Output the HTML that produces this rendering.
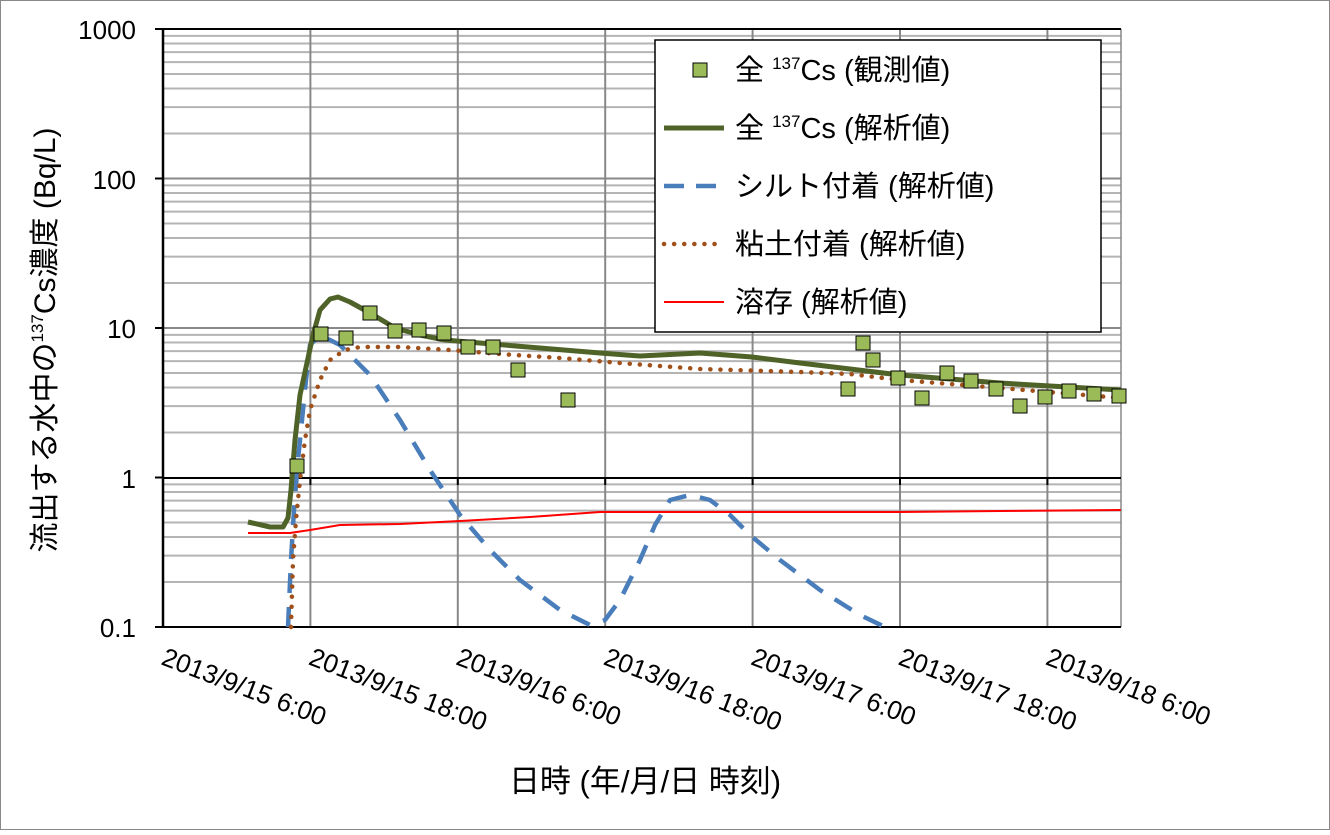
<!DOCTYPE html>
<html><head><meta charset="utf-8"><style>
body{margin:0;background:#fff}
svg{font-family:"Liberation Sans","Noto Sans CJK JP",sans-serif}
</style></head><body>
<svg width="1330" height="830" xmlns="http://www.w3.org/2000/svg">
<rect x="0.5" y="0.5" width="1329" height="829" fill="#fff" stroke="#888"/>
<g id="grid"></g>
<g fill="none" stroke-linejoin="round">
<polyline stroke="#4a7ebb" stroke-width="4.5" stroke-dasharray="20,14" points="288,627 291,560 294,510 298,460 302,420 306,380 310,345 315,340 320,335 340,345 370,375 400,420 430,470 460,515 490,550 520,580 560,610 590,625 605,620 620,600 640,560 655,525 670,500 690,495 710,500 730,515 750,535 780,560 820,590 860,615 885,627"/>
<polyline stroke="#a0501a" stroke-width="4.5" stroke-dasharray="0.1,10" stroke-linecap="round" points="291,627 293,560 296,520 300,480 305,440 310,410 320,380 330,360 345,350 360,347 400,347 450,350 500,354 560,358 620,363 700,369 800,372 850,374 900,380 1000,388 1121,398"/>
<polyline stroke="#ff0000" stroke-width="2" points="248,533 290,533 310,530 340,525 400,524 460,521 530,517 600,512 752,512 900,512 1000,511 1121,510"/>
<polyline stroke="#4f6228" stroke-width="5" points="248,522 270,527 283,527 288,518 291,490 295,440 300,395 305,372 313,335 320,310 330,299 338,297 350,302 370,313 395,328 420,335 445,340 480,343 540,348 600,353 640,356 700,353 752,357 800,363 850,369 900,375 950,379 1000,383 1050,386 1121,390"/>
</g>
<g id="pts" fill="#9bbb59" stroke="#000" stroke-width="1"></g>
<g font-size="26" text-anchor="end" fill="#000">
<text x="136" y="39">1000</text><text x="136" y="189">100</text><text x="136" y="338">10</text><text x="136" y="488">1</text><text x="136" y="637">0.1</text>
</g>
<g font-size="26" id="xl"></g>
<text x="645" y="792" font-size="31" text-anchor="middle">日時 (年/月/日 時刻)</text>
<text transform="translate(55,340) rotate(-90)" font-size="30" text-anchor="middle">流出する水中の<tspan font-size="17" dy="-12">137</tspan><tspan dy="12">Cs濃度 (Bq/L)</tspan></text>
<rect x="655" y="40" width="446" height="292" fill="#fff" stroke="#000" stroke-width="1.5"/>
<rect x="693" y="63" width="14" height="14" fill="#9bbb59" stroke="#000"/>
<line x1="664" y1="128" x2="724" y2="128" stroke="#4f6228" stroke-width="5"/>
<line x1="664" y1="186" x2="724" y2="186" stroke="#4a7ebb" stroke-width="4.5" stroke-dasharray="20,12"/>
<line x1="664" y1="244" x2="724" y2="244" stroke="#a0501a" stroke-width="4.5" stroke-dasharray="0.1,10" stroke-linecap="round"/>
<line x1="664" y1="302" x2="724" y2="302" stroke="#ff0000" stroke-width="2"/>
<g font-size="29">
<text x="735" y="80">全 <tspan font-size="17" dy="-11">137</tspan><tspan dy="11">Cs (観測値)</tspan></text>
<text x="735" y="138">全 <tspan font-size="17" dy="-11">137</tspan><tspan dy="11">Cs (解析値)</tspan></text>
<text x="735" y="196">シルト付着 (解析値)</text>
<text x="735" y="254">粘土付着 (解析値)</text>
<text x="735" y="312">溶存 (解析値)</text>
</g>
<script>
var ns="http://www.w3.org/2000/svg",g=document.getElementById("grid");
function L(x1,y1,x2,y2,c,w){var l=document.createElementNS(ns,"line");l.setAttribute("x1",x1);l.setAttribute("y1",y1);l.setAttribute("x2",x2);l.setAttribute("y2",y2);l.setAttribute("stroke",c);l.setAttribute("stroke-width",w);g.appendChild(l);}
var T0=29,dec=149.5;
for(var d=0;d<4;d++){for(var m=2;m<=9;m++){var y=T0+(d+1)*dec-Math.log10(m)*dec;L(163,y,1121,y,"#b4b4b4",2);}}
for(var i=1;i<=6;i++){var x=163+i*147.4;L(x,T0,x,627,"#888",2);}
L(1121,T0,1121,627,"#888",1.5);
L(163,T0+dec,1121,T0+dec,"#888",2);L(163,T0+2*dec,1121,T0+2*dec,"#888",2);
L(163,T0,1121,T0,"#000",2);L(163,478,1121,478,"#000",2);L(163,627,1121,627,"#000",2);
L(163,T0,163,628,"#000",2.5);
for(var d=0;d<5;d++)L(155,T0+d*dec,163,T0+d*dec,"#000",2);
for(var i=0;i<=6;i++){var x=163+i*147.4;L(x,478,x,485,"#000",2);}
var pts=[[297,466],[321,334],[346,338],[370,313],[395,331],[419,330],[444,333],[468,347],[493,347],[518,370],[568,400],[848,389],[863,343],[873,360],[898,378],[922,398],[947,373],[971,381],[996,389],[1020,406],[1045,397],[1069,391],[1094,394],[1119,396]];
var pg=document.getElementById("pts");
pts.forEach(function(p){var r=document.createElementNS(ns,"rect");r.setAttribute("x",p[0]-7);r.setAttribute("y",p[1]-7);r.setAttribute("width",14);r.setAttribute("height",14);pg.appendChild(r);});
var labs=["2013/9/15 6:00","2013/9/15 18:00","2013/9/16 6:00","2013/9/16 18:00","2013/9/17 6:00","2013/9/17 18:00","2013/9/18 6:00"];
var xl=document.getElementById("xl");
labs.forEach(function(s,i){var t=document.createElementNS(ns,"text");var x=160+i*147.4;t.setAttribute("transform","translate("+x+",664) rotate(21)");t.textContent=s;xl.appendChild(t);});
</script>
</svg>
</body></html>
